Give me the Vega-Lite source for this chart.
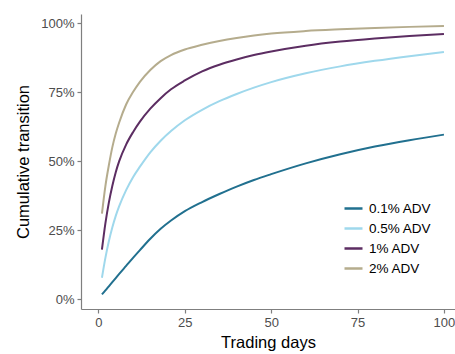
{
  "$schema": "https://vega.github.io/schema/vega-lite/v6.json",
  "width": 374,
  "height": 295,
  "autosize": {"type": "none"},
  "padding": {"left": 81, "top": 14, "right": 0, "bottom": 45},
  "background": "white",
  "config": {
    "view": {"stroke": null},
    "font": "Liberation Sans"
  },
  "datasets": {
    "curves": [
      {"days": 1, "series": "0.1% ADV", "value": 0.018},
      {"days": 2, "series": "0.1% ADV", "value": 0.032},
      {"days": 3, "series": "0.1% ADV", "value": 0.047},
      {"days": 4, "series": "0.1% ADV", "value": 0.062},
      {"days": 5, "series": "0.1% ADV", "value": 0.077},
      {"days": 6, "series": "0.1% ADV", "value": 0.092},
      {"days": 8, "series": "0.1% ADV", "value": 0.121},
      {"days": 10, "series": "0.1% ADV", "value": 0.15},
      {"days": 12, "series": "0.1% ADV", "value": 0.178},
      {"days": 15, "series": "0.1% ADV", "value": 0.219},
      {"days": 18, "series": "0.1% ADV", "value": 0.255},
      {"days": 21, "series": "0.1% ADV", "value": 0.285},
      {"days": 25, "series": "0.1% ADV", "value": 0.319},
      {"days": 30, "series": "0.1% ADV", "value": 0.352},
      {"days": 35, "series": "0.1% ADV", "value": 0.381},
      {"days": 40, "series": "0.1% ADV", "value": 0.408},
      {"days": 45, "series": "0.1% ADV", "value": 0.432},
      {"days": 50, "series": "0.1% ADV", "value": 0.453},
      {"days": 60, "series": "0.1% ADV", "value": 0.492},
      {"days": 70, "series": "0.1% ADV", "value": 0.525},
      {"days": 80, "series": "0.1% ADV", "value": 0.553},
      {"days": 90, "series": "0.1% ADV", "value": 0.576},
      {"days": 100, "series": "0.1% ADV", "value": 0.596},

      {"days": 1, "series": "0.5% ADV", "value": 0.078},
      {"days": 2, "series": "0.5% ADV", "value": 0.15},
      {"days": 3, "series": "0.5% ADV", "value": 0.21},
      {"days": 4, "series": "0.5% ADV", "value": 0.26},
      {"days": 5, "series": "0.5% ADV", "value": 0.302},
      {"days": 6, "series": "0.5% ADV", "value": 0.337},
      {"days": 8, "series": "0.5% ADV", "value": 0.395},
      {"days": 10, "series": "0.5% ADV", "value": 0.442},
      {"days": 12, "series": "0.5% ADV", "value": 0.48},
      {"days": 15, "series": "0.5% ADV", "value": 0.532},
      {"days": 18, "series": "0.5% ADV", "value": 0.574},
      {"days": 21, "series": "0.5% ADV", "value": 0.609},
      {"days": 25, "series": "0.5% ADV", "value": 0.648},
      {"days": 30, "series": "0.5% ADV", "value": 0.686},
      {"days": 35, "series": "0.5% ADV", "value": 0.717},
      {"days": 40, "series": "0.5% ADV", "value": 0.743},
      {"days": 45, "series": "0.5% ADV", "value": 0.766},
      {"days": 50, "series": "0.5% ADV", "value": 0.786},
      {"days": 60, "series": "0.5% ADV", "value": 0.818},
      {"days": 70, "series": "0.5% ADV", "value": 0.843},
      {"days": 80, "series": "0.5% ADV", "value": 0.863},
      {"days": 90, "series": "0.5% ADV", "value": 0.88},
      {"days": 100, "series": "0.5% ADV", "value": 0.895},

      {"days": 1, "series": "1% ADV", "value": 0.18},
      {"days": 2, "series": "1% ADV", "value": 0.275},
      {"days": 3, "series": "1% ADV", "value": 0.35},
      {"days": 4, "series": "1% ADV", "value": 0.41},
      {"days": 5, "series": "1% ADV", "value": 0.46},
      {"days": 6, "series": "1% ADV", "value": 0.5},
      {"days": 8, "series": "1% ADV", "value": 0.56},
      {"days": 10, "series": "1% ADV", "value": 0.605},
      {"days": 12, "series": "1% ADV", "value": 0.643},
      {"days": 15, "series": "1% ADV", "value": 0.69},
      {"days": 18, "series": "1% ADV", "value": 0.728},
      {"days": 21, "series": "1% ADV", "value": 0.76},
      {"days": 25, "series": "1% ADV", "value": 0.792},
      {"days": 30, "series": "1% ADV", "value": 0.825},
      {"days": 35, "series": "1% ADV", "value": 0.849},
      {"days": 40, "series": "1% ADV", "value": 0.868},
      {"days": 45, "series": "1% ADV", "value": 0.884},
      {"days": 50, "series": "1% ADV", "value": 0.897},
      {"days": 60, "series": "1% ADV", "value": 0.918},
      {"days": 70, "series": "1% ADV", "value": 0.933},
      {"days": 80, "series": "1% ADV", "value": 0.944},
      {"days": 90, "series": "1% ADV", "value": 0.953},
      {"days": 100, "series": "1% ADV", "value": 0.96},

      {"days": 1, "series": "2% ADV", "value": 0.31},
      {"days": 2, "series": "2% ADV", "value": 0.41},
      {"days": 3, "series": "2% ADV", "value": 0.485},
      {"days": 4, "series": "2% ADV", "value": 0.55},
      {"days": 5, "series": "2% ADV", "value": 0.6},
      {"days": 6, "series": "2% ADV", "value": 0.64},
      {"days": 8, "series": "2% ADV", "value": 0.705},
      {"days": 10, "series": "2% ADV", "value": 0.75},
      {"days": 12, "series": "2% ADV", "value": 0.787},
      {"days": 15, "series": "2% ADV", "value": 0.83},
      {"days": 18, "series": "2% ADV", "value": 0.862},
      {"days": 21, "series": "2% ADV", "value": 0.884},
      {"days": 25, "series": "2% ADV", "value": 0.904},
      {"days": 30, "series": "2% ADV", "value": 0.921},
      {"days": 35, "series": "2% ADV", "value": 0.935},
      {"days": 40, "series": "2% ADV", "value": 0.946},
      {"days": 45, "series": "2% ADV", "value": 0.955},
      {"days": 50, "series": "2% ADV", "value": 0.962},
      {"days": 60, "series": "2% ADV", "value": 0.971},
      {"days": 70, "series": "2% ADV", "value": 0.977},
      {"days": 80, "series": "2% ADV", "value": 0.982},
      {"days": 90, "series": "2% ADV", "value": 0.986},
      {"days": 100, "series": "2% ADV", "value": 0.989}
    ]
  },
  "data": {"name": "curves"},
  "mark": {"type": "line", "strokeWidth": 2, "interpolate": "monotone", "clip": true},
  "encoding": {
    "x": {
      "field": "days",
      "type": "quantitative",
      "scale": {"domain": [-5.06, 103.2], "nice": false, "zero": false},
      "axis": {
        "title": "Trading days",
        "values": [0, 25, 50, 75, 100],
        "grid": false,
        "domainColor": "#7f7f7f",
        "domainWidth": 1.2,
        "tickColor": "#7f7f7f",
        "tickWidth": 1.2,
        "tickSize": 4,
        "labelFontSize": 13,
        "labelColor": "#4d4d4d",
        "labelPadding": 3,
        "titleFontSize": 16.5,
        "titleFontWeight": "normal",
        "titleColor": "#000000",
        "titlePadding": 5
      }
    },
    "y": {
      "field": "value",
      "type": "quantitative",
      "scale": {"domain": [-0.0351, 1.0326], "nice": false, "zero": false},
      "axis": {
        "title": "Cumulative transition",
        "values": [0, 0.25, 0.5, 0.75, 1],
        "format": ".0%",
        "grid": false,
        "domainColor": "#7f7f7f",
        "domainWidth": 1.2,
        "tickColor": "#7f7f7f",
        "tickWidth": 1.2,
        "tickSize": 4,
        "labelFontSize": 13,
        "labelColor": "#4d4d4d",
        "labelPadding": 3,
        "titleFontSize": 16.5,
        "titleFontWeight": "normal",
        "titleColor": "#000000",
        "titlePadding": 9
      }
    },
    "color": {
      "field": "series",
      "type": "nominal",
      "scale": {
        "domain": ["0.1% ADV", "0.5% ADV", "1% ADV", "2% ADV"],
        "range": ["#21708F", "#9FD8EC", "#5C2D62", "#B5AC8D"]
      },
      "legend": {
        "title": null,
        "orient": "none",
        "legendX": 262,
        "legendY": 184,
        "padding": 0,
        "symbolType": "stroke",
        "symbolSize": 324,
        "symbolStrokeWidth": 2.5,
        "rowPadding": 3,
        "labelOffset": 5,
        "labelFontSize": 13.5,
        "labelColor": "#000000"
      }
    }
  }
}
